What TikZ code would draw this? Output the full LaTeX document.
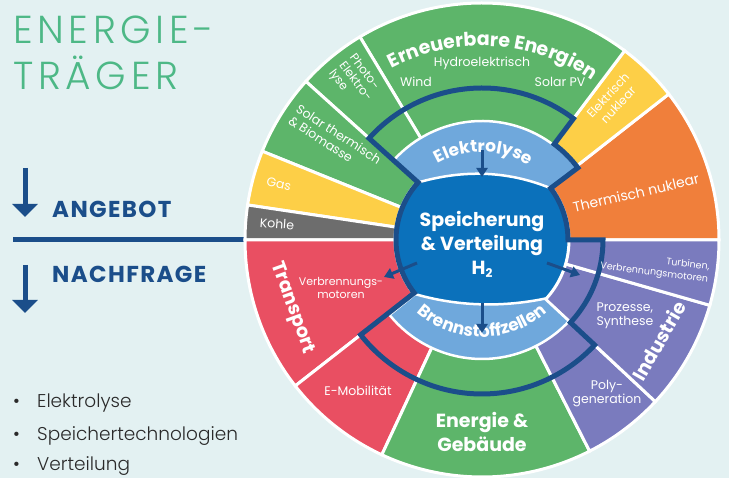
\documentclass[tikz,border=0pt]{standalone}
\usepackage{fontspec}
\setmainfont{Poppins}
\newfontfamily\lightfont{Poppins Light}
\usepackage{xcolor}
\usetikzlibrary{arrows.meta, decorations.text, positioning}

\definecolor{bg}{HTML}{E3F1F2}
\definecolor{grn}{HTML}{5DB56A}
\definecolor{ylw}{HTML}{FDCF47}
\definecolor{org}{HTML}{F07F3B}
\definecolor{gry}{HTML}{6D6D6D}
\definecolor{rd}{HTML}{E94F62}
\definecolor{prp}{HTML}{7A7BBE}
\definecolor{lblue}{HTML}{6FA8DC}
\definecolor{dblue}{HTML}{0B71BB}
\definecolor{navy}{HTML}{1B4E8A}
\definecolor{ttl}{HTML}{4DB886}
\definecolor{txt}{HTML}{2A2A2A}

\tikzset{
    x = 1pt, y = 1pt,
    seg/.style = {draw = white, line width = 3pt},
    band/.style = {fill = lblue, draw = white, line width = 2.5pt},
    sub/.style = {text = white, inner sep = 0pt, align = center, font = \fontsize{12.5}{14}\selectfont},
    head/.style = {text = white, inner sep = 0pt, align = center, font = \bfseries\fontsize{19}{24}\selectfont},
    flow/.style = {draw = navy, line width = 3pt, -{Triangle[width = 11pt, length = 9pt]}},
    updown/.style = {draw = navy, line width = 5pt, -{Triangle[width = 25pt, length = 13pt]}},
    heading/.style = {anchor = base west, inner sep = 0pt, text = ttl, font = \lightfont\fontsize{39}{39}\selectfont\addfontfeature{LetterSpace = 12}},
    topic/.style = {anchor = base west, inner sep = 0pt, text = navy, font = \bfseries\fontsize{23}{23}\selectfont\addfontfeature{LetterSpace = 6}},
    listitem/.style = {anchor = base west, inner sep = 0pt, text = txt, font = \lightfont\fontsize{18.5}{18.5}\selectfont}
}

\begin{document}
\begin{tikzpicture}
    \fill [bg] (0,0) rectangle (729,478);
    \useasboundingbox (0,0) rectangle (729,478);

    % left column
    \node [heading] (t1) at (13,434) {ENERGIE-};
    \node [heading] (t2) at (13,388) {TRÄGER};
    \coordinate (a1) at (25,310);
    \coordinate (a2) at (25,261);
    \coordinate (a3) at (25,213);
    \coordinate (a4) at (25,165);
    \draw [updown] (a1) -- (a2);
    \draw [updown] (a3) -- (a4);
    \node [topic] (supply) at (52,260) {ANGEBOT};
    \node [topic] (demand) at (52,195) {NACHFRAGE};
    \coordinate (h1) at (13,238);
    \coordinate (h2) at (246,238);
    \draw [navy, line width = 5pt] (h1) -- (h2);
    \node [listitem] (l1) at (13,70) {\makebox[24pt][l]{\textbullet}Elektrolyse};
    \node [listitem] (l2) at (13,37) {\makebox[24pt][l]{\textbullet}Speichertechnologien};
    \node [listitem] (l3) at (13,7) {\makebox[24pt][l]{\textbullet}Verteilung};

    \begin{scope}[shift = {(482,238)}]
        % sectors
        \foreach \a/\b/\c in {0/38/org, 38/53/ylw, 53/121/grn, 121/138/grn, 138/158/grn, 158/171.5/ylw, 171.5/180/gry,
                              180/218/rd, 218/245/rd, 245/297/grn, 297/317/prp, 317/344/prp, 344/360/prp}
            \filldraw [seg, fill = \c] (0,0) -- (\a:237) arc [start angle = \a, end angle = \b, radius = 237] -- cycle;

        % hub
        \fill [dblue] (0,0) circle [radius = 86];
        \draw [white, line width = 3pt] (0,0) circle [radius = 87];
        \filldraw [band] (138:86) -- (138:119) arc [start angle = 138, end angle = 37, radius = 119]
            -- (37:86) .. controls (24,70) and (-20,70) .. cycle;
        \filldraw [band] (219:86) -- (219:119) arc [start angle = 219, end angle = 317, radius = 119]
            -- (317:86) .. controls (22,-67) and (-22,-67) .. cycle;

        \draw [navy, line width = 5pt] (138:86) -- (138:152) arc [start angle = 138, end angle = 53, radius = 152]
            -- (53:120) arc [start angle = 53, end angle = 37, radius = 120]
            -- (37:86) arc [start angle = 37, end angle = 0, radius = 86]
            -- (0:121) arc [start angle = 0, end angle = -43, radius = 121]
            -- (-43:154) arc [start angle = -43, end angle = -142, radius = 154]
            -- (-142:86) arc [start angle = 218, end angle = 138, radius = 86] -- cycle;

        % curved titles
        \path [decorate, decoration = {text along path, text align = center, text color = white,
            text = {|\bfseries\fontsize{19}{19}\selectfont|Erneuerbare Energien}}]
            (130.5:194) arc [start angle = 130.5, end angle = 42.5, radius = 194];
        \path [decorate, decoration = {text along path, text align = center, text color = white,
            text = {|\bfseries\fontsize{17}{17}\selectfont|Elektrolyse}}]
            (149:88) arc [start angle = 149, end angle = 29, radius = 88];
        \path [decorate, decoration = {text along path, text align = center, text color = white,
            text = {|\bfseries\fontsize{17}{17}\selectfont|Brennstoffzellen}}]
            (205:97) arc [start angle = 205, end angle = 335, radius = 97];

        \node [head] (store) at (0,-4) {Speicherung\\\& Verteilung\\H\raisebox{-3pt}{\fontsize{12}{12}\selectfont 2}};

        % flows out of the hub
        \coordinate (in1) at (0,90);
        \coordinate (in2) at (0,63);
        \coordinate (out1) at (0,-63);
        \coordinate (out2) at (0,-93);
        \coordinate (out3) at (-65,-23);
        \coordinate (out4) at (-98,-37);
        \coordinate (out5) at (65,-23);
        \coordinate (out6) at (98,-35);
        \draw [flow] (in1) -- (in2);
        \draw [flow] (out1) -- (out2);
        \draw [flow] (out3) -- (out4);
        \draw [flow] (out5) -- (out6);

        % supply
        \node [sub] (hydro) at (0,177) {Hydroelektrisch};
        \node [sub] (wind) at (-66,158) {Wind};
        \node [sub] (pv) at (78,158) {Solar PV};
        \node [sub, align = left, rotate = -53, font = \fontsize{12}{13}\selectfont] (photo) at (-127,158) {Photo-\\Elektro-\\lyse};
        \node [sub, align = left, rotate = -33] (solar) at (-147,100) {Solar thermisch\\\& Biomasse};
        \node [sub, rotate = -13] (gas) at (-203,56) {Gas};
        \node [sub, rotate = -4] (coal) at (-205,16) {Kohle};
        \node [sub, rotate = 47, font = \fontsize{12}{14}\selectfont] (elnuc) at (131,140) {Elektrisch\\nuklear};
        \node [sub, rotate = 13, font = \fontsize{14}{14}\selectfont] (thnuc) at (154,47) {Thermisch nuklear};

        % demand
        \node [head, rotate = -70] (transport) at (-190,-68) {Transport};
        \node [sub, font = \fontsize{11}{13}\selectfont] (engine) at (-141,-48) {Verbrennungs-\\motoren};
        \node [sub] (emob) at (-124,-151) {E-Mobilität};
        \node [head] (building) at (0,-192) {Energie \&\\Gebäude};
        \node [sub] (poly) at (125,-154) {Poly-\\generation};
        \node [sub, align = left] (process) at (143,-76) {Prozesse,\\Synthese};
        \node [sub, align = right, rotate = -7, font = \fontsize{9.5}{12.5}\selectfont] (turbine) at (173,-27) {Turbinen,\\Verbrennungsmotoren};
        \node [head, rotate = 60] (industry) at (177,-101) {Industrie};
    \end{scope}
\end{tikzpicture}
\end{document}
